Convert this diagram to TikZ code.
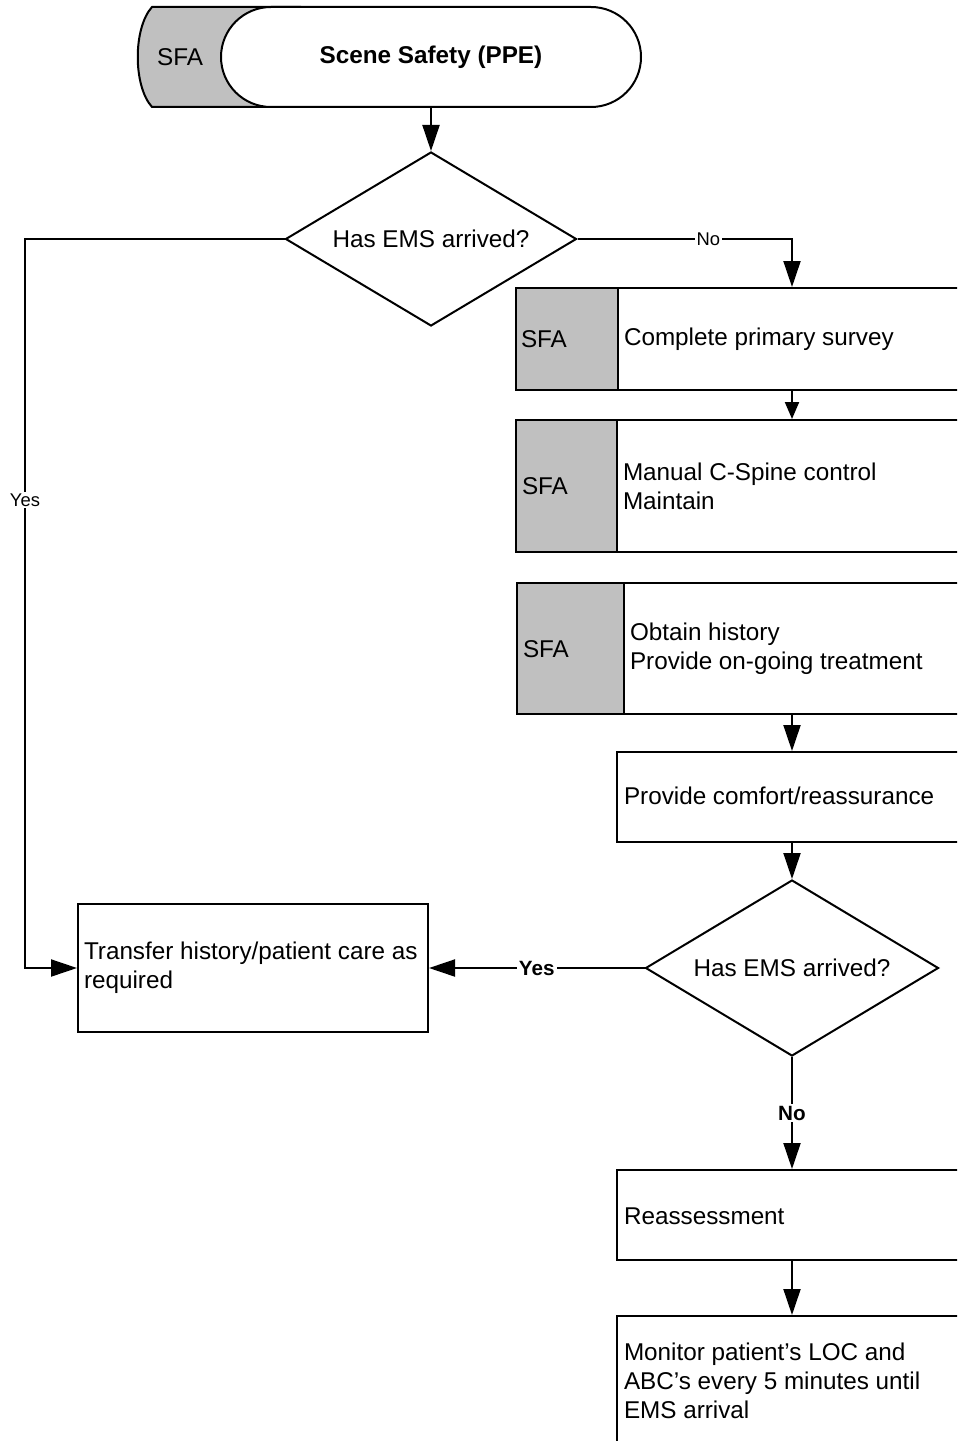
\documentclass[tikz,border=0pt]{standalone}
\usepackage{fontspec}
\setmainfont{Liberation Sans}
\usetikzlibrary{shapes.geometric,arrows.meta}
\definecolor{sfagray}{HTML}{C0C0C0}
\newcommand\fmain{\fontsize{18.2pt}{21.75pt}\selectfont}
\newcommand\fsmall{\fontsize{13.8pt}{16pt}\selectfont}
\newcommand\fbold{\fontsize{15.5pt}{18pt}\selectfont\bfseries}
\begin{document}
\begin{tikzpicture}[x=0.75pt,y=-0.75pt,line width=1.5pt,
  box/.style={draw, fill=white, rectangle, inner sep=0pt},
  sfabox/.style={draw, fill=sfagray, rectangle, inner sep=0pt},
  term/.style={draw, fill=white, rectangle, rounded corners=37.5pt, minimum width=315pt, minimum height=75pt, inner sep=0pt, font=\fmain\bfseries},
  dec/.style={draw, fill=white, diamond, aspect=1.67, inner sep=0pt, font=\fmain},
  txt/.style={anchor=west, inner sep=0pt, align=left, font=\fmain},
  lab/.style={fill=white, inner sep=1.5pt, font=\fsmall},
  labb/.style={fill=white, inner sep=1.5pt, font=\fbold},
  arr/.style={-{Triangle[length=19.5pt,width=12.75pt]}},
  arrs/.style={-{Triangle[length=12.75pt,width=10.5pt]}}]
\useasboundingbox (0,0) rectangle (957,1441);
\clip (0,0) rectangle (957,1441);

% terminator
\path[draw, fill=sfagray] (152,7) -- (300,7) -- (300,107) -- (152,107) .. controls (133,86) and (133,28) .. (152,7) -- cycle;
\node[term] (start) at (431,57) {Scene Safety (PPE)};
\node[font=\fmain, inner sep=0pt] (sfa0) at (180,57) {SFA};

% first decision
\node[dec, minimum width=218.25pt, minimum height=130.5pt] (d1) at (431,239) {Has EMS arrived?};

% box 1
\node[box, minimum width=414pt, minimum height=76.5pt] (b1) at (792,339) {};
\node[sfabox, minimum width=76.5pt, minimum height=76.5pt] (b1g) at (567,339) {};
\node[txt] (sfa1) at (520,339) {SFA};
\node[txt] (t1) at (623,339) {Complete primary survey};

% box 2
\node[box, minimum width=414pt, minimum height=99pt] (b2) at (792,486) {};
\node[sfabox, minimum width=75.75pt, minimum height=99pt] (b2g) at (566.5,486) {};
\node[txt] (sfa2) at (521,486) {SFA};
\node[txt] (t2) at (622,486.5) {Manual C-Spine control\\Maintain};

% box 3
\node[box, minimum width=412.5pt, minimum height=98.25pt] (b3) at (792,648.5) {};
\node[sfabox, minimum width=80.25pt, minimum height=98.25pt] (b3g) at (570.5,648.5) {};
\node[txt] (sfa3) at (522,649) {SFA};
\node[txt] (t3) at (629,648.5) {Obtain history\\Provide on-going treatment};

% box 4
\node[box, minimum width=262.5pt, minimum height=67.5pt] (b4) at (792,797) {};
\node[txt] (t4) at (623,796) {Provide comfort/reassurance};

% second decision
\node[dec, minimum width=219.75pt, minimum height=132pt] (d2) at (792,968) {Has EMS arrived?};

% transfer box
\node[box, minimum width=262.5pt, minimum height=96pt] (tr) at (253,968) {};
\node[txt] (t5) at (83,968) {Transfer history/patient care as\\required};

% reassessment
\node[box, minimum width=262.5pt, minimum height=67.5pt] (ra) at (792,1215) {};
\node[txt] (t6) at (623,1216) {Reassessment};

% monitor
\node[box, minimum width=262.5pt, minimum height=112.5pt] (mon) at (792,1391) {};
\node[txt] (t7) at (623,1381) {Monitor patient’s LOC and\\ABC’s every 5 minutes until\\EMS arrival};

% connectors
\draw[arr] (start.south) -- (d1.north);
\draw[arr] (d1.east) -| node[lab, pos=0.305] {No} (b1.north);
\draw[arrs] (b1.south) -- (b2.north);
\draw[arr] (b3.south) -- (b4.north);
\draw[arr] (b4.south) -- (d2.north);
\draw[arr] (d2.west) -- node[labb] {Yes} (tr.east);
\draw[arr] (d2.south) -- node[labb] {No} (ra.north);
\draw[arr] (ra.south) -- (mon.north);
\coordinate (yc) at (25,239);
\draw[arr] (d1.west) -- (yc) |- node[lab, pos=0.179] {Yes} (tr.west);
\end{tikzpicture}
\end{document}
